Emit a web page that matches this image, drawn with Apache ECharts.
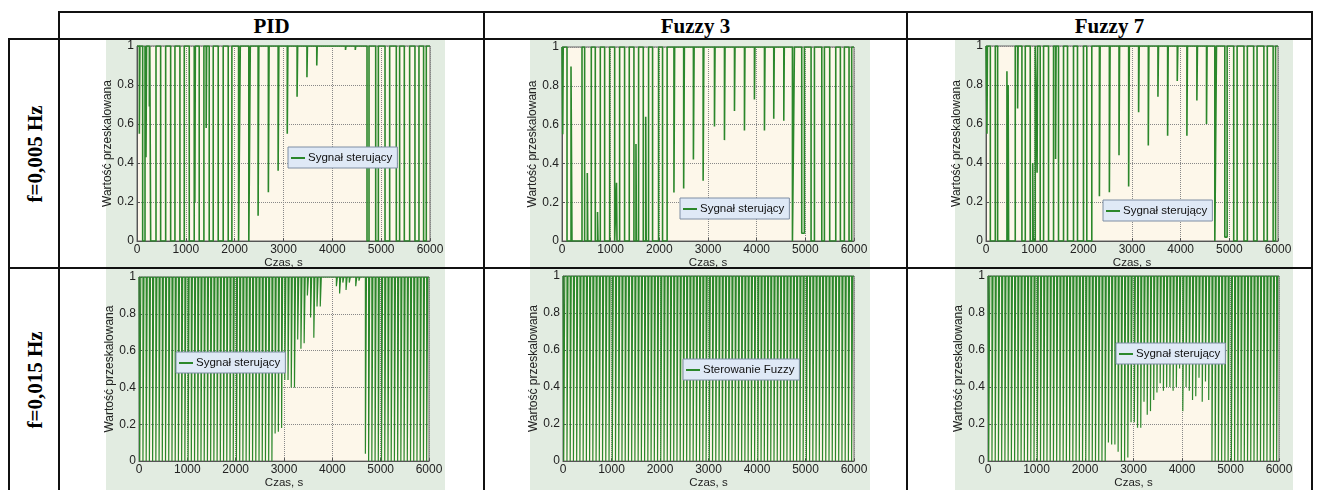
<!DOCTYPE html>
<html>
<head>
<meta charset="utf-8">
<script src="https://cdn.jsdelivr.net/npm/echarts@6/dist/echarts.min.js"></script>
<style>
body{margin:0;background:#fff;}
#page{position:relative;width:1322px;height:490px;overflow:hidden;background:#fff;font-family:"Liberation Serif","Times New Roman",serif;}
.ln{position:absolute;background:#111;}
.fig{position:absolute;background:#e2ece1;}
.hd{position:absolute;top:12px;height:27px;line-height:28px;font-weight:bold;font-size:21px;text-align:center;}
.rl{position:absolute;width:200px;height:26px;line-height:26px;font-weight:bold;font-size:21px;text-align:center;white-space:nowrap;transform:rotate(-90deg);}
#chart{position:absolute;left:0;top:0;width:1322px;height:490px;}
</style>
</head>
<body>
<div id="page">
  <!-- tło wykresów -->
  <div class="fig" style="left:106px;top:40px;width:339px;height:227px"></div>
  <div class="fig" style="left:530px;top:40px;width:340px;height:227px"></div>
  <div class="fig" style="left:955px;top:40px;width:338px;height:227px"></div>
  <div class="fig" style="left:106px;top:269px;width:339px;height:221px"></div>
  <div class="fig" style="left:530px;top:269px;width:340px;height:221px"></div>
  <div class="fig" style="left:955px;top:269px;width:338px;height:221px"></div>

  <!-- linie tabeli -->
  <div class="ln" style="left:58px;top:11px;width:1255px;height:2px"></div>
  <div class="ln" style="left:8px;top:38px;width:1305px;height:2px"></div>
  <div class="ln" style="left:8px;top:267px;width:1305px;height:2px"></div>
  <div class="ln" style="left:8px;top:38px;width:2px;height:452px"></div>
  <div class="ln" style="left:58px;top:11px;width:2px;height:479px"></div>
  <div class="ln" style="left:483px;top:11px;width:2px;height:479px"></div>
  <div class="ln" style="left:906px;top:11px;width:2px;height:479px"></div>
  <div class="ln" style="left:1311px;top:11px;width:2px;height:479px"></div>

  <div class="hd" style="left:60px;width:423px">PID</div>
  <div class="hd" style="left:485px;width:421px">Fuzzy 3</div>
  <div class="hd" style="left:908px;width:403px">Fuzzy 7</div>

  <div class="rl" style="left:-65px;top:141px">f=0,005 Hz</div>
  <div class="rl" style="left:-65px;top:367px">f=0,015 Hz</div>

  <div id="chart"></div>
</div>
<script>
// osie
var xTicks = [0, 1000, 2000, 3000, 4000, 5000, 6000];
var yTicks = [0, 0.2, 0.4, 0.6, 0.8, 1];

// f=0,005 Hz - punkty przełączeń [czas, poziom]
var pidSlow = [[0,1],[48,0.55],[60,1],[116,0],[164,1],[184,0.43],[196,1],[253,0.69],[262,1],[280,0],[389,1],
  [484,0],[587,1],[689,0],[777,1],[879,0],[968,1],[1070,0],[1172,1],[1185,0.2],[1195,1],[1274,0],[1370,1],
  [1417,0.58],[1427,1],[1479,0],[1561,1],[1663,0],[1765,1],[1868,0],[1943,1],[2080,0],[2115,1],[2290,0],[2320,1],
  [2480,0.13],[2495,1],[2690,0.25],[2705,1],[2890,0.36],[2905,1],[3077,0.55],[3090,1],[3278,0.74],[3290,1],
  [3480,0.84],[3490,1],[3681,0.9],[3690,1],[4085,0.99],[4095,1],[4270,0.98],[4280,1],[4470,0.98],[4480,1],
  [4710,0],[4751,1],[4888,0],[4942,1],[5079,0],[5174,1],[5310,0],[5378,1],[5474,0],[5583,1],[5692,0],[5774,1],
  [5869,0],[5924,1],[6000,1]];

var fz3Slow = [[0,1],[15,0.55],[25,1],[103,0],[185,0.9],[205,0],[411,1],[465,0],[520,0.35],[530,0],[602,1],
  [684,0],[730,0.15],[740,0],[787,1],[876,0],[979,1],[1082,0],[1120,0.3],[1130,0],[1184,1],[1286,0],[1382,1],
  [1478,0],[1520,0.5],[1530,0],[1574,1],[1670,0],[1720,0.64],[1730,0],[1779,1],[1861,0],[1984,1],[2066,0],[2160,1],
  [2300,0.25],[2315,1],[2500,0.27],[2515,1],[2700,0.42],[2715,1],[2900,0.31],[2915,1],[3133,0.59],[3145,1],
  [3338,0.52],[3350,1],[3544,0.67],[3555,1],[3749,0.57],[3760,1],[3954,0.73],[3965,1],[4160,0.57],[4172,1],
  [4351,0.63],[4362,1],[4557,0.62],[4568,1],[4735,0],[4776,1],[4926,0.04],[4981,1],[5118,0],[5187,1],
  [5338,0],[5392,1],[5501,0],[5625,1],[5720,0],[5802,1],[5898,0],[5953,1],[6000,1]];

var fz7Slow = [[0,1],[20,0.55],[30,1],[89,0],[191,1],[239,0],[430,0.87],[445,0],[455,0.8],[465,0],[601,1],
  [650,0.68],[660,1],[738,0],[807,1],[909,0],[960,0.4],[970,0],[1012,1],[1050,0.35],[1060,1],[1114,0],[1183,1],
  [1285,0],[1388,1],[1430,0.42],[1440,1],[1490,0],[1593,1],[1675,0],[1798,1],[1880,0],[2003,1],[2071,0],[2174,1],
  [2330,0.23],[2345,1],[2535,0.25],[2550,1],[2733,0.44],[2745,1],[2931,0.28],[2945,1],[3136,0.66],[3148,1],
  [3335,0.49],[3347,1],[3533,0.74],[3545,1],[3732,0.54],[3744,1],[3930,0.82],[3942,1],[4128,0.54],[4140,1],
  [4333,0.72],[4345,1],[4531,0.6],[4543,1],[4702,0],[4736,1],[4907,0.02],[4955,1],[5090,0],[5160,1],
  [5300,0],[5370,1],[5500,0],[5570,1],[5710,0],[5780,1],[5900,0],[5950,1],[6000,1]];

// f=0,015 Hz - minimum sygnału w każdym okresie (90 okresów)
var periodFast = 66.7;
var pidFast = [0,0,0,0,0,0,0,0,0,0, 0,0,0,0,0,0,0,0,0,0, 0,0,0,0,0,0,0,0,0,0, 0,0,0,0,0,0,0,0,0,0,
  0,0,0.15,0.16,0.18,0.44,0.44,0.40,0.40,0.66, 0.61,0.64,0.9,0.78,0.67,0.84,0.84,1,1,1,
  1,0.95,0.91,0.97,0.93,0.97,1,0.95,0.98,1, 0.04,0,0,0,0,0,0,0,0,0, 0,0,0,0,0,0,0,0,0,0];
var fz3Fast = [0,0,0,0,0,0,0,0,0,0, 0,0,0,0,0,0,0,0,0,0, 0,0,0,0,0,0,0,0,0,0, 0,0,0,0,0,0,0,0,0,0,
  0,0,0,0,0,0,0,0,0,0, 0,0,0,0,0,0,0,0,0,0, 0,0,0,0,0,0,0,0,0,0, 0,0,0,0,0,0,0,0,0,0, 0,0,0,0,0,0,0,0,0,0];
var fz7Fast = [0,0,0,0,0,0,0,0,0,0, 0,0,0,0,0,0,0,0,0,0, 0,0,0,0,0,0,0,0,0,0, 0,0,0,0,0,0,0,
  0.1,0.09,0.09,0.05,0,0,0.02,0.21,0.21,0.18,0.18,0.32,0.25,0.27,0.33,0.37,0.42,0.38,0.4,0.4,0.38,0.4,0.5,
  0.27,0.4,0.38,0.33,0.35,0.45,0.32,0.43,0.33, 0,0,0,0,0,0,0,0,0,0,0, 0,0,0,0,0,0,0,0,0,0];

function fastData(mins){
  var d = [[0,1]];
  for (var k = 0; k < mins.length; k++) {
    var t = 15 + k * periodFast;
    if (mins[k] < 1) {
      d.push([t, mins[k]]);
      d.push([t + 22, 1]);
    }
  }
  d.push([6000,1]);
  return d;
}

var grids = [
  {left:137, top:46, width:293, height:195},
  {left:562, top:47, width:292, height:194},
  {left:986, top:46, width:292, height:195},
  {left:139, top:277, width:290, height:193},
  {left:563, top:276, width:291, height:193},
  {left:988, top:276, width:291, height:194}
];
var legendPos = [[288,147],[680,198],[1103,200],[176,352],[683,359],[1116,343]];
var names = ['Sygnał sterujący','Sygnał sterujący','Sygnał sterujący','Sygnał sterujący','Sterowanie Fuzzy','Sygnał sterujący'];
var datas = [pidSlow, fz3Slow, fz7Slow, fastData(pidFast), fastData(fz3Fast), fastData(fz7Fast)];

var font = 'Liberation Sans';
var option = {animation:false, grid:[], xAxis:[], yAxis:[], series:[], legend:[]};

for (var i = 0; i < 6; i++) {
  var g = grids[i];
  option.grid.push({left:g.left, top:g.top, width:g.width, height:g.height, show:true,
    backgroundColor:'#fdf7ea', borderColor:'#666', borderWidth:1});
  option.xAxis.push({
    type:'value', gridIndex:i, min:xTicks[0], max:xTicks[xTicks.length-1], interval:xTicks[1]-xTicks[0],
    name:'Czas, s', nameLocation:'middle', nameGap:15,
    nameTextStyle:{fontFamily:font, fontSize:11.5, color:'#222'},
    axisLine:{lineStyle:{color:'#555'}},
    axisTick:{inside:true, length:3, lineStyle:{color:'#555'}},
    axisLabel:{fontFamily:font, fontSize:12, color:'#222', margin:3,
      formatter:function(v){ return String(v); }},
    splitLine:{show:true, lineStyle:{type:'dotted', color:'#888'}}
  });
  option.yAxis.push({
    type:'value', gridIndex:i, min:yTicks[0], max:yTicks[yTicks.length-1], interval:0.2,
    name:'Wartość przeskalowana', nameLocation:'middle', nameGap:18, nameRotate:90,
    nameTextStyle:{fontFamily:font, fontSize:12, color:'#222'},
    axisLine:{lineStyle:{color:'#555'}},
    axisTick:{inside:true, length:3, lineStyle:{color:'#555'}},
    axisLabel:{fontFamily:font, fontSize:12, color:'#222', margin:3,
      formatter:function(v){ return String(Math.round(v*10)/10); }},
    splitLine:{show:true, lineStyle:{type:'dotted', color:'#888'}}
  });
  option.series.push({
    type:'line', name:names[i], xAxisIndex:i, yAxisIndex:i, step:'end', symbol:'none',
    data:datas[i], lineStyle:{color:'#2b872b', width:i < 3 ? 1.6 : 1.2}, itemStyle:{color:'#2b872b'}
  });
  option.legend.push({
    left:legendPos[i][0], top:legendPos[i][1], data:[names[i]], icon:'rect',
    backgroundColor:'#dfe9f6', borderColor:'#7f8ea4', borderWidth:1, borderRadius:0,
    padding:[5,5,4,3], itemWidth:14, itemHeight:2, itemGap:0,
    textStyle:{fontFamily:font, fontSize:11.5, color:'#111', padding:[0,0,0,-2]}
  });
}

var myChart = echarts.init(document.getElementById('chart'));
myChart.setOption(option);
</script>
</body>
</html>
